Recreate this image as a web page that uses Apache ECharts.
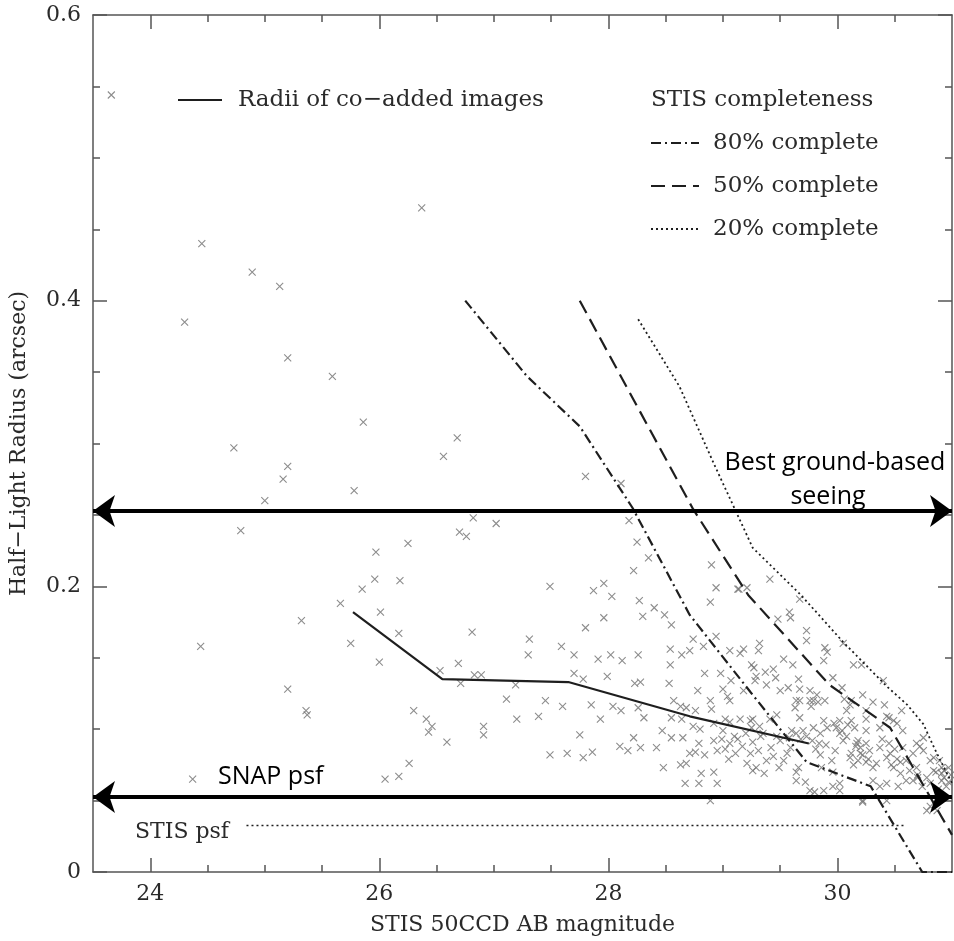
<!DOCTYPE html>
<html>
<head>
<meta charset="utf-8">
<script src="https://cdn.jsdelivr.net/npm/echarts@6/dist/echarts.min.js"></script>
<style>
html,body{margin:0;padding:0;background:#fff;}
#chart{width:954px;height:941px;}
</style>
</head>
<body>
<div id="chart"></div>
<script>
// ---------------- DATA ----------------
const xRange = [23.5, 31];
const yRange = [0, 0.6];
const xMajorTicks = [24, 26, 28, 30];
const xMinorTicks = [24.5, 25, 25.5, 26.5, 27, 27.5, 28.5, 29, 29.5, 30.5];
const yTickStep = 0.2;

// Radii of co-added images (solid line)
const radiiMag = [25.77, 26.55, 27.65, 28.71, 29.75];
const radiiR   = [0.182, 0.135, 0.133, 0.109, 0.090];

// STIS completeness curves
const c80Mag = [26.75, 27.29, 27.75, 28.21, 28.71, 29.24, 29.73, 30.29, 30.74, 31.0];
const c80R   = [0.400, 0.347, 0.312, 0.255, 0.180, 0.126, 0.077, 0.060, 0.0, 0.0];
const c50Mag = [27.75, 28.19, 28.74, 29.22, 29.93, 30.26, 30.46, 31.0];
const c50R   = [0.400, 0.335, 0.254, 0.194, 0.131, 0.1125, 0.101, 0.026];
const c20Mag = [28.26, 28.62, 28.92, 29.26, 29.68, 30.05, 30.43, 30.61, 30.75, 30.85, 31.0];
const c20R   = [0.387, 0.340, 0.286, 0.227, 0.194, 0.161, 0.130, 0.117, 0.1035, 0.086, 0.062];

// STIS psf (dotted horizontal)
const stisPsfMag = [24.84, 30.58];
const stisPsfR   = [0.0326, 0.0326];

// Reference arrows
const snapPsfR = 0.0525;
const seeingR  = 0.2528;

// Galaxy measurements [magnitude, half-light radius]
const galaxies = [
[23.66,0.544],[24.45,0.440],[24.30,0.385],[24.89,0.420],[25.13,0.410],[25.20,0.360],[25.59,0.347],[25.86,0.315],[24.73,0.297],[25.20,0.284],[25.16,0.275],[25.00,0.260],[25.78,0.267],[26.68,0.304],[26.56,0.291],[24.79,0.239],[25.97,0.224],[26.25,0.230],[26.70,0.238],[26.76,0.235],[26.82,0.248],[27.02,0.244],[26.37,0.465],
[27.80,0.277],[28.11,0.272],[28.18,0.246],[28.25,0.231],[28.35,0.220],[28.22,0.211],[28.90,0.215],
[27.49,0.200],[27.87,0.197],[27.96,0.202],[28.03,0.193],[28.27,0.190],[28.40,0.185],[28.94,0.199],[28.89,0.189],[29.13,0.198],
[24.44,0.158],[24.37,0.065],[25.32,0.176],[25.20,0.128],[25.37,0.110],[25.36,0.113],
[25.66,0.188],[25.85,0.198],[25.96,0.205],[26.18,0.204],[26.01,0.182],[25.75,0.160],[26.17,0.167],[26.00,0.147],[26.30,0.113],[26.41,0.107],[26.46,0.102],[26.43,0.098],[26.59,0.091],[26.26,0.076],[26.17,0.067],[26.05,0.065],
[26.53,0.141],[26.69,0.146],[26.71,0.132],[26.83,0.138],[26.89,0.138],[26.81,0.168],[26.91,0.102],[26.91,0.096],[27.11,0.121],[27.19,0.131],[27.20,0.107],[27.31,0.163],[27.30,0.152],[27.39,0.109],[27.45,0.120],[27.49,0.082],[27.59,0.158],[27.64,0.083],[27.70,0.152],[27.70,0.139],[27.78,0.135],[27.60,0.116],[27.75,0.096],[27.78,0.080],[27.86,0.084],[27.80,0.171],[27.96,0.178],[27.91,0.149],[28.02,0.152],[28.12,0.148],[27.99,0.137],[27.85,0.117],[27.93,0.107],[28.04,0.116],[28.11,0.113],[28.30,0.179],[28.26,0.152],[28.23,0.132],[28.26,0.115],[28.31,0.108],[28.22,0.094],[28.10,0.088],[28.17,0.085],[28.28,0.087],
[28.49,0.180],[28.55,0.173],[28.74,0.163],[28.83,0.158],[28.94,0.165],[28.54,0.156],[28.64,0.152],[28.71,0.155],[28.54,0.145],[29.06,0.155],[29.15,0.153],[29.18,0.156],[29.31,0.155],[29.32,0.160],[29.41,0.205],[29.14,0.198],[29.21,0.199],[29.67,0.191],[29.48,0.177],[29.58,0.182],[29.59,0.178],[29.73,0.169],[29.73,0.162],[29.89,0.157],[29.91,0.154],[29.88,0.148],[30.05,0.160],[30.14,0.145],[30.21,0.145],
[28.53,0.132],[28.84,0.139],[28.78,0.127],[28.98,0.139],[29.00,0.128],[29.04,0.123],[29.06,0.120],[29.07,0.134],[29.18,0.127],[29.27,0.143],[29.29,0.137],[29.28,0.134],[29.38,0.131],[29.37,0.140],[29.44,0.142],[29.46,0.136],[29.50,0.127],[29.57,0.129],[29.66,0.135],[29.67,0.128],[29.76,0.127],[29.79,0.120],[29.77,0.116],[29.64,0.120],[29.63,0.115],[29.89,0.120],[29.96,0.136],[30.04,0.129],[30.06,0.121],[30.12,0.120],[30.25,0.113],[30.31,0.119],[30.40,0.134],[30.45,0.108],[30.52,0.104],[30.57,0.099],[30.69,0.090],[30.75,0.085],[30.84,0.080],[30.89,0.078],[30.97,0.073],[30.75,0.094],[30.81,0.078],[30.84,0.071],[30.91,0.069],[30.66,0.083],[30.60,0.078],[30.49,0.073],[30.69,0.073],[30.78,0.043],[30.87,0.043],[30.81,0.046],
[28.47,0.099],[28.55,0.094],[28.65,0.094],[28.42,0.087],[28.71,0.083],[28.76,0.084],[28.84,0.082],[28.79,0.090],[28.92,0.092],[28.99,0.093],[29.00,0.099],[29.02,0.107],[28.92,0.104],[29.06,0.090],[29.11,0.083],[29.05,0.079],[29.24,0.083],[29.21,0.076],[29.26,0.071],[29.29,0.073],[29.38,0.078],[29.25,0.101],[29.32,0.102],[29.26,0.107],[29.33,0.095],[29.49,0.073],[29.50,0.092],[29.47,0.095],[29.59,0.087],[29.58,0.094],[29.64,0.097],[29.73,0.095],[29.64,0.070],[29.64,0.064],[29.72,0.063],[29.76,0.057],[29.85,0.082],[29.86,0.073],[29.95,0.078],[29.96,0.070],[30.02,0.062],[30.02,0.057],[29.88,0.057],[30.11,0.080],[30.14,0.075],[30.20,0.083],[30.25,0.077],[30.31,0.073],[30.31,0.064],[30.37,0.060],[30.43,0.062],[30.53,0.060],[30.22,0.050],[30.43,0.050],[30.05,0.092],[30.08,0.095],[30.18,0.092],[30.20,0.087],[30.28,0.085],[30.37,0.087],[30.39,0.093],[30.12,0.106],[30.15,0.101],[30.02,0.106],[29.99,0.101],[30.02,0.097],[29.91,0.101],[29.85,0.097],[30.56,0.113],[30.57,0.087],[30.55,0.077],[30.46,0.083],[30.63,0.071],[30.60,0.064],[30.70,0.066],[30.81,0.062],[30.91,0.064],[30.95,0.060],
[28.28,0.133],[28.57,0.120],[28.63,0.116],[28.68,0.115],[28.76,0.113],[28.89,0.120],[28.90,0.114],[28.55,0.108],[28.64,0.107],[28.74,0.102],[28.80,0.100],[28.48,0.073],[28.63,0.075],[28.68,0.076],[28.81,0.069],[28.92,0.070],[28.95,0.062],[28.67,0.062],[28.79,0.062],[28.89,0.050],
[29.53,0.149],[29.61,0.145],[29.25,0.145],[29.67,0.120],[29.76,0.120],[29.83,0.119],[29.82,0.124],[30.22,0.124],[30.11,0.117],[30.08,0.113],[30.41,0.117],[30.25,0.107],[30.43,0.109],[30.49,0.106],[30.37,0.101],[30.25,0.099],[30.17,0.090],[29.88,0.106],[29.79,0.101],[29.67,0.108],[29.47,0.110],[29.41,0.107],[29.24,0.106],[29.15,0.107],[29.06,0.105],[29.13,0.093],[29.26,0.091],[29.35,0.097],[29.56,0.083],[29.66,0.073],[29.98,0.085],[30.12,0.083],[30.34,0.076],[30.43,0.080],[30.55,0.069],[30.72,0.088],[30.91,0.073],[30.99,0.068],[30.66,0.064],[29.96,0.060],[29.80,0.056],[30.22,0.049],
[30.16,0.088],[30.22,0.082],[30.27,0.079],[30.18,0.078],[30.25,0.090],[30.70,0.068],[30.78,0.066],[30.86,0.070],[30.93,0.066],[30.97,0.063],[30.74,0.060],[30.88,0.058],[30.45,0.090],[30.50,0.086],[30.52,0.079],[30.47,0.075],[29.78,0.092],[29.84,0.090],[29.81,0.086],[29.90,0.089],[29.60,0.099],[29.68,0.093],[29.70,0.099],[29.97,0.104],[30.04,0.099],[30.09,0.103],[30.93,0.071],[28.95,0.085],[29.02,0.086],[29.10,0.095],[29.17,0.088],[29.20,0.097],[29.31,0.085],[29.42,0.087],[29.44,0.081],[29.53,0.078],[29.36,0.069]
];

// ---------------- STYLE ----------------
const SERIF = "'DejaVu Serif', serif";
const AXIS_COLOR = '#555';
const TEXT_COLOR = '#2a2a2a';
const LINE_COLOR = '#1e1e1e';
const DASHDOT = [10, 4, 2, 4];
const DASHED = [14, 7];
const DOTTED = [2, 3];

function zip(a, b) { return a.map((v, i) => [v, b[i]]); }

const chart = echarts.init(document.getElementById('chart'), null, { renderer: 'canvas' });

const baseX = { type: 'value', min: xRange[0], max: xRange[1], splitLine: { show: false } };
const baseY = { type: 'value', min: yRange[0], max: yRange[1], interval: yTickStep, splitLine: { show: false } };
const tickLine = { color: AXIS_COLOR, width: 1.5 };

const option = {
  animation: false,
  backgroundColor: '#fff',
  grid: { left: 93, right: 2, top: 15, bottom: 62, containLabel: false },
  xAxis: [
    Object.assign({}, baseX, {
      position: 'bottom',
      axisLine: { show: true, lineStyle: { color: AXIS_COLOR, width: 1.5 } },
      axisTick: { show: true, inside: true, length: 14, customValues: xMajorTicks, lineStyle: tickLine },
      axisLabel: { show: true, customValues: xMajorTicks, margin: 11, fontFamily: SERIF, fontSize: 22, color: TEXT_COLOR },
      name: 'STIS 50CCD AB magnitude', nameLocation: 'middle', nameGap: 42,
      nameTextStyle: { fontFamily: SERIF, fontSize: 22, color: TEXT_COLOR }
    }),
    Object.assign({}, baseX, {
      position: 'bottom',
      axisLine: { show: false },
      axisTick: { show: true, inside: true, length: 7, customValues: xMinorTicks, lineStyle: tickLine },
      axisLabel: { show: false, customValues: xMinorTicks }
    }),
    Object.assign({}, baseX, {
      position: 'top',
      axisLine: { show: true, lineStyle: { color: AXIS_COLOR, width: 1.5 } },
      axisTick: { show: true, inside: true, length: 14, customValues: xMajorTicks, lineStyle: tickLine },
      axisLabel: { show: false, customValues: xMajorTicks }
    }),
    Object.assign({}, baseX, {
      position: 'top',
      axisLine: { show: false },
      axisTick: { show: true, inside: true, length: 7, customValues: xMinorTicks, lineStyle: tickLine },
      axisLabel: { show: false, customValues: xMinorTicks }
    })
  ],
  yAxis: [
    Object.assign({}, baseY, {
      position: 'left',
      axisLine: { show: true, lineStyle: { color: AXIS_COLOR, width: 1.5 } },
      axisTick: { show: true, inside: true, length: 14, lineStyle: tickLine },
      minorTick: { show: true, splitNumber: 4, length: 7, lineStyle: tickLine },
      axisLabel: { show: true, margin: 12, fontFamily: SERIF, fontSize: 22, color: TEXT_COLOR,
        formatter: v => (v === 0 ? '0' : v.toFixed(1)) },
      name: 'Half\u2212Light Radius (arcsec)', nameLocation: 'middle', nameGap: 63, nameRotate: 90,
      nameTextStyle: { fontFamily: SERIF, fontSize: 22, color: TEXT_COLOR }
    }),
    Object.assign({}, baseY, {
      position: 'right',
      axisLine: { show: true, lineStyle: { color: AXIS_COLOR, width: 1.5 } },
      axisTick: { show: true, inside: true, length: 14, lineStyle: tickLine },
      minorTick: { show: true, splitNumber: 4, length: 7, lineStyle: tickLine },
      axisLabel: { show: false }
    })
  ],
  series: [
    {
      name: 'Galaxies', type: 'scatter', xAxisIndex: 0, yAxisIndex: 0,
      symbol: 'path://M0,0L10,10M10,0L0,10', symbolSize: 7,
      itemStyle: { color: 'none', borderColor: '#707070', borderWidth: 1.1 },
      data: galaxies, z: 2
    },
    {
      name: 'Radii of co-added images', type: 'line', xAxisIndex: 0, yAxisIndex: 0,
      showSymbol: false, symbol: 'none',
      lineStyle: { color: LINE_COLOR, width: 2.2, type: 'solid' },
      data: zip(radiiMag, radiiR), z: 3
    },
    {
      name: '80% complete', type: 'line', xAxisIndex: 0, yAxisIndex: 0, symbol: 'none',
      lineStyle: { color: LINE_COLOR, width: 2.2, type: DASHDOT },
      data: zip(c80Mag, c80R), z: 3
    },
    {
      name: '50% complete', type: 'line', xAxisIndex: 0, yAxisIndex: 0, symbol: 'none',
      lineStyle: { color: LINE_COLOR, width: 2.2, type: DASHED },
      data: zip(c50Mag, c50R), z: 3
    },
    {
      name: '20% complete', type: 'line', xAxisIndex: 0, yAxisIndex: 0, symbol: 'none',
      lineStyle: { color: LINE_COLOR, width: 1.8, type: DOTTED },
      data: zip(c20Mag, c20R), z: 3
    },
    {
      name: 'STIS psf', type: 'line', xAxisIndex: 0, yAxisIndex: 0, symbol: 'none',
      lineStyle: { color: LINE_COLOR, width: 1.6, type: DOTTED },
      data: zip(stisPsfMag, stisPsfR), z: 3
    },
    {
      name: 'arrows', type: 'line', xAxisIndex: 0, yAxisIndex: 0, data: [], z: 4,
      markLine: {
        silent: true, symbol: ['arrow', 'arrow'], symbolSize: [24, 22],
        lineStyle: { color: '#000', width: 4, type: 'solid' },
        label: { show: false },
        data: [
          [{ coord: [xRange[0], snapPsfR] }, { coord: [xRange[1], snapPsfR] }],
          [{ coord: [xRange[0], seeingR] }, { coord: [xRange[1], seeingR] }]
        ]
      }
    }
  ],
  graphic: [
    // legend
    { type: 'line', shape: { x1: 178, y1: 100, x2: 222, y2: 100 }, style: { stroke: LINE_COLOR, lineWidth: 2 } },
    { type: 'text', x: 238, y: 100, style: { text: 'Radii of co\u2212added images', font: "23px 'DejaVu Serif'", fill: TEXT_COLOR, verticalAlign: 'middle' } },
    { type: 'text', x: 651, y: 100, style: { text: 'STIS completeness', font: "23px 'DejaVu Serif'", fill: TEXT_COLOR, verticalAlign: 'middle' } },
    { type: 'line', shape: { x1: 651, y1: 143, x2: 699, y2: 143 }, style: { stroke: LINE_COLOR, lineWidth: 2, lineDash: DASHDOT } },
    { type: 'text', x: 713, y: 143, style: { text: '80% complete', font: "23px 'DejaVu Serif'", fill: TEXT_COLOR, verticalAlign: 'middle' } },
    { type: 'line', shape: { x1: 651, y1: 186, x2: 699, y2: 186 }, style: { stroke: LINE_COLOR, lineWidth: 2, lineDash: DASHED } },
    { type: 'text', x: 713, y: 186, style: { text: '50% complete', font: "23px 'DejaVu Serif'", fill: TEXT_COLOR, verticalAlign: 'middle' } },
    { type: 'line', shape: { x1: 651, y1: 229, x2: 699, y2: 229 }, style: { stroke: LINE_COLOR, lineWidth: 1.8, lineDash: DOTTED } },
    { type: 'text', x: 713, y: 229, style: { text: '20% complete', font: "23px 'DejaVu Serif'", fill: TEXT_COLOR, verticalAlign: 'middle' } },
    // annotations
    { type: 'text', x: 835, y: 463, style: { text: 'Best ground-based', font: "25px 'Open Sans'", fill: '#000', align: 'center', verticalAlign: 'middle' } },
    { type: 'text', x: 828, y: 497, style: { text: 'seeing', font: "25px 'Open Sans'", fill: '#000', align: 'center', verticalAlign: 'middle' } },
    { type: 'text', x: 218, y: 777, style: { text: 'SNAP psf', font: "25px 'Open Sans'", fill: '#000', align: 'left', verticalAlign: 'middle' } },
    { type: 'text', x: 135, y: 832, style: { text: 'STIS psf', font: "22px 'DejaVu Serif'", fill: TEXT_COLOR, align: 'left', verticalAlign: 'middle' } }
  ]
};

chart.setOption(option);
</script>
</body>
</html>
